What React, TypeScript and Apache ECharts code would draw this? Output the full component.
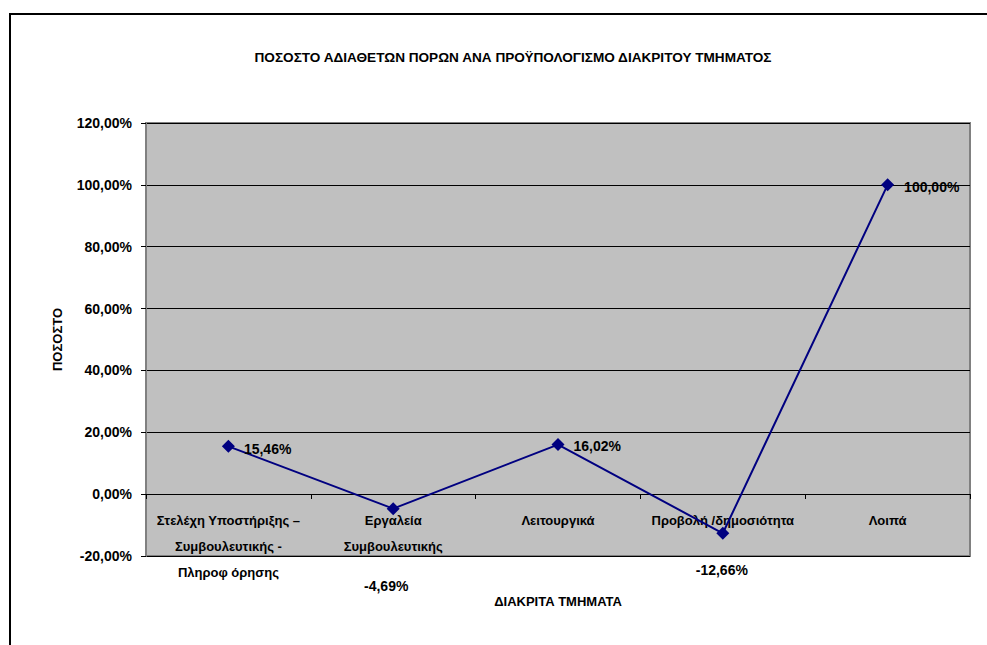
import React, { useEffect, useRef } from "react";
import * as echarts from "echarts";

const titleText = "ΠΟΣΟΣΤΟ ΑΔΙΑΘΕΤΩΝ ΠΟΡΩΝ ΑΝΑ ΠΡΟΫΠΟΛΟΓΙΣΜΟ ΔΙΑΚΡΙΤΟΥ ΤΜΗΜΑΤΟΣ";
const categories = [
  "Στελέχη Υποστήριξης –\nΣυμβουλευτικής -\nΠληροφ όρησης",
  "Εργαλεία\nΣυμβουλευτικής",
  "Λειτουργικά",
  "Προβολή /δημοσιότητα",
  "Λοιπά",
];
const values = [15.46, -4.69, 16.02, -12.66, 100.0];
const yAxisName = "ΠΟΣΟΣΤΟ";
const xAxisName = "ΔΙΑΚΡΙΤΑ ΤΜΗΜΑΤΑ";

const FONT = "'Liberation Sans', Arial, sans-serif";
const fmt = (v: number) => v.toFixed(2).replace(".", ",") + "%";

// label placement per point (style only)
const labelStyles: any[] = [
  { position: "right", distance: 9, offset: [0, 3] },
  { position: "inside", offset: [-7, 77] },
  { position: "right", distance: 9, offset: [0, 1] },
  { position: "inside", offset: [-1, 37] },
  { position: "right", distance: 10, offset: [0, 2] },
];

export default function App() {
  const ref = useRef<HTMLDivElement>(null);
  useEffect(() => {
    if (!ref.current) return;
    const chart = echarts.init(ref.current, null, { renderer: "svg" });
    chart.setOption({
      animation: false,
      backgroundColor: "#ffffff",
      textStyle: { fontFamily: FONT },
      title: {
        text: titleText,
        left: 508,
        textAlign: "center",
        top: 45,
        textStyle: { fontFamily: FONT, fontSize: 13.6, fontWeight: "bold", color: "#000" },
      },
      graphic: [
        {
          type: "rect",
          shape: { x: 10, y: 14, width: 1100, height: 800 },
          style: { fill: "none", stroke: "#000", lineWidth: 2 },
          silent: true,
        },
      ],
      grid: {
        left: 146,
        right: 17,
        top: 123,
        bottom: 89,
        containLabel: false,
        outerBoundsMode: "none",
        show: true,
        backgroundColor: "#C0C0C0",
        borderColor: "#808080",
        borderWidth: 2,
      },
      xAxis: {
        type: "category",
        data: categories,
        boundaryGap: true,
        offset: -62,
        name: xAxisName,
        nameLocation: "middle",
        nameGap: 101,
        nameTextStyle: { fontFamily: FONT, fontSize: 13, fontWeight: "bold", color: "#000" },
        axisLine: { onZero: false, lineStyle: { color: "#000", width: 1 } },
        axisTick: { show: true, inside: false, length: 5, lineStyle: { color: "#000" } },
        axisLabel: {
          interval: 0,
          margin: 13,
          fontFamily: FONT,
          fontSize: 13,
          fontWeight: "bold",
          color: "#000",
          lineHeight: 26,
        },
        splitLine: { show: false },
      },
      yAxis: {
        type: "value",
        min: -20,
        max: 120,
        interval: 20,
        name: yAxisName,
        nameLocation: "middle",
        nameGap: 82,
        nameRotate: 90,
        nameTextStyle: { fontFamily: FONT, fontSize: 13, fontWeight: "bold", color: "#000" },
        axisLine: { show: true, lineStyle: { color: "#808080", width: 2 } },
        axisTick: { show: true, length: 5, lineStyle: { color: "#000" } },
        axisLabel: {
          formatter: (v: number) => fmt(v),
          margin: 14,
          fontFamily: FONT,
          fontSize: 14,
          fontWeight: "bold",
          color: "#000",
        },
        splitLine: { show: true, lineStyle: { color: "#000", width: 1 } },
      },
      series: [
        {
          type: "line",
          data: values.map((v, i) => ({
            value: v,
            label: { show: true, ...labelStyles[i] },
          })),
          symbol: "diamond",
          symbolSize: 13,
          lineStyle: { color: "#000080", width: 2 },
          itemStyle: { color: "#000080" },
          label: {
            show: true,
            formatter: (p: any) => fmt(p.value),
            fontFamily: FONT,
            fontSize: 14,
            fontWeight: "bold",
            color: "#000",
          },
        },
      ],
    });
    return () => chart.dispose();
  }, []);
  return (
    <div
      ref={ref}
      style={{ position: "absolute", left: 0, top: 0, width: 987, height: 645 }}
    />
  );
}
